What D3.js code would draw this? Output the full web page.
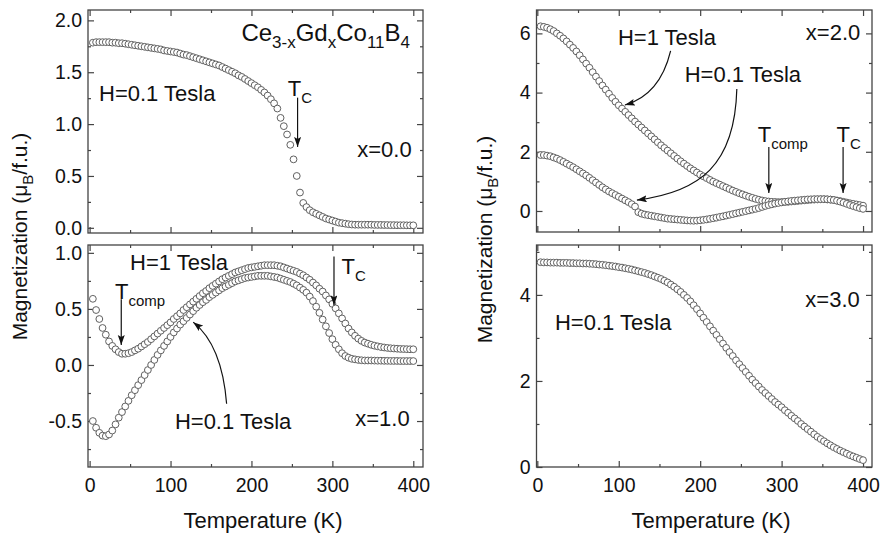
<!DOCTYPE html>
<html>
<head>
<meta charset="utf-8">
<style>
body { margin: 0; background: #fff; }
text { font-family: "Liberation Sans", Arial, Helvetica, sans-serif; fill: #111; }
</style>
</head>
<body>
<svg width="882" height="534" id="chart"></svg>
<script src="https://cdnjs.cloudflare.com/ajax/libs/d3/7.8.5/d3.min.js"></script>
<script>
// temperature grid (K), shared by every curve
var temps = [
  4,8,12,16,20,24,28,32,36,40,
  44,48,52,56,60,64,68,72,76,80,
  84,88,92,96,100,104,108,112,116,120,
  124,128,132,136,140,144,148,152,156,160,
  164,168,172,176,180,184,188,192,196,200,
  204,208,212,216,220,224,228,232,236,240,
  244,248,252,256,260,264,268,272,276,280,
  284,288,292,296,300,304,308,312,316,320,
  324,328,332,336,340,344,348,352,356,360,
  364,368,372,376,380,384,388,392,396,400
];

// x = 0.0, H = 0.1 T
var m_x0_h01 = [
  1.785,1.79,1.79,1.79,1.79,1.79,1.785,1.785,1.78,1.78,
  1.775,1.77,1.765,1.76,1.755,1.75,1.745,1.74,1.735,1.73,
  1.725,1.72,1.71,1.705,1.70,1.695,1.69,1.68,1.67,1.665,
  1.655,1.645,1.635,1.625,1.615,1.605,1.595,1.585,1.575,1.565,
  1.55,1.535,1.52,1.505,1.49,1.47,1.455,1.435,1.415,1.395,
  1.375,1.355,1.33,1.305,1.275,1.24,1.20,1.15,1.06,0.98,
  0.90,0.80,0.66,0.50,0.34,0.24,0.20,0.17,0.15,0.135,
  0.12,0.105,0.09,0.08,0.07,0.06,0.05,0.045,0.04,0.035,
  0.032,0.03,0.03,0.03,0.03,0.03,0.03,0.028,0.028,0.028,
  0.027,0.027,0.026,0.026,0.025,0.025,0.025,0.024,0.024,0.024
];

// x = 1.0, H = 1 T
var m_x1_h1 = [
  0.59,0.49,0.41,0.33,0.27,0.21,0.17,0.14,0.115,0.10,
  0.10,0.105,0.115,0.13,0.145,0.165,0.185,0.205,0.23,0.255,
  0.28,0.305,0.33,0.355,0.38,0.41,0.435,0.46,0.49,0.515,
  0.54,0.565,0.59,0.615,0.64,0.66,0.685,0.705,0.725,0.745,
  0.765,0.78,0.795,0.81,0.825,0.835,0.845,0.855,0.865,0.87,
  0.875,0.88,0.885,0.89,0.89,0.89,0.89,0.885,0.88,0.87,
  0.86,0.85,0.84,0.83,0.815,0.80,0.78,0.76,0.735,0.71,
  0.68,0.655,0.62,0.585,0.545,0.505,0.46,0.415,0.37,0.325,
  0.29,0.26,0.235,0.215,0.20,0.19,0.18,0.172,0.166,0.16,
  0.156,0.152,0.149,0.147,0.145,0.143,0.142,0.141,0.14,0.14
];

// x = 1.0, H = 0.1 T
var m_x1_h01 = [
  -0.50,-0.56,-0.605,-0.63,-0.635,-0.62,-0.585,-0.53,-0.47,-0.42,
  -0.37,-0.32,-0.27,-0.225,-0.18,-0.135,-0.09,-0.045,0.0,0.045,
  0.09,0.13,0.17,0.21,0.25,0.29,0.325,0.36,0.39,0.42,
  0.45,0.48,0.51,0.535,0.56,0.58,0.605,0.625,0.645,0.665,
  0.685,0.70,0.715,0.73,0.745,0.755,0.765,0.775,0.78,0.785,
  0.79,0.795,0.795,0.795,0.795,0.79,0.785,0.78,0.77,0.76,
  0.75,0.74,0.725,0.71,0.69,0.67,0.645,0.61,0.57,0.52,
  0.465,0.405,0.345,0.285,0.23,0.18,0.14,0.105,0.08,0.065,
  0.055,0.05,0.045,0.042,0.04,0.04,0.04,0.039,0.038,0.038,
  0.037,0.037,0.036,0.036,0.036,0.035,0.035,0.035,0.035,0.035
];

// x = 2.0, H = 1 T
var m_x2_h1 = [
  6.24,6.22,6.19,6.14,6.08,6.00,5.92,5.83,5.73,5.62,
  5.51,5.39,5.26,5.12,4.98,4.84,4.69,4.54,4.39,4.24,
  4.10,3.96,3.82,3.69,3.57,3.46,3.35,3.24,3.13,3.02,
  2.92,2.82,2.72,2.62,2.52,2.42,2.32,2.22,2.13,2.04,
  1.95,1.86,1.77,1.68,1.60,1.52,1.44,1.37,1.30,1.23,
  1.17,1.11,1.05,0.99,0.94,0.89,0.84,0.79,0.74,0.69,
  0.645,0.60,0.56,0.52,0.48,0.445,0.41,0.38,0.355,0.335,
  0.32,0.31,0.305,0.30,0.30,0.305,0.31,0.32,0.33,0.34,
  0.35,0.36,0.37,0.38,0.385,0.39,0.395,0.395,0.39,0.385,
  0.37,0.355,0.335,0.31,0.285,0.26,0.24,0.22,0.20,0.18
];

// x = 2.0, H = 0.1 T
var m_x2_h01 = [
  1.89,1.89,1.87,1.85,1.81,1.77,1.72,1.66,1.60,1.54,
  1.48,1.41,1.34,1.27,1.20,1.12,1.04,0.96,0.88,0.80,
  0.73,0.66,0.60,0.54,0.48,0.42,0.36,0.30,0.23,0.15,
  -0.04,-0.09,-0.12,-0.14,-0.16,-0.18,-0.20,-0.22,-0.24,-0.26,
  -0.27,-0.28,-0.29,-0.30,-0.31,-0.32,-0.325,-0.33,-0.325,-0.315,
  -0.30,-0.285,-0.265,-0.245,-0.225,-0.20,-0.18,-0.155,-0.13,-0.105,
  -0.08,-0.055,-0.03,-0.005,0.02,0.045,0.07,0.10,0.135,0.17,
  0.20,0.225,0.25,0.27,0.29,0.31,0.325,0.34,0.35,0.36,
  0.37,0.38,0.39,0.395,0.40,0.40,0.40,0.40,0.395,0.385,
  0.37,0.345,0.315,0.28,0.24,0.20,0.165,0.13,0.095,0.07
];

// x = 3.0, H = 0.1 T
var m_x3_h01 = [
  4.76,4.755,4.755,4.75,4.75,4.75,4.745,4.745,4.745,4.74,
  4.74,4.735,4.735,4.73,4.73,4.725,4.72,4.715,4.705,4.70,
  4.69,4.68,4.67,4.66,4.645,4.635,4.62,4.605,4.59,4.57,
  4.55,4.53,4.51,4.485,4.46,4.43,4.40,4.37,4.33,4.29,
  4.24,4.19,4.13,4.07,4.00,3.93,3.85,3.76,3.67,3.57,
  3.47,3.37,3.27,3.17,3.07,2.97,2.87,2.77,2.67,2.58,
  2.48,2.39,2.30,2.21,2.12,2.03,1.95,1.87,1.79,1.72,
  1.65,1.58,1.51,1.45,1.39,1.32,1.26,1.19,1.13,1.07,
  1.00,0.94,0.88,0.82,0.76,0.70,0.65,0.60,0.55,0.505,
  0.46,0.42,0.38,0.345,0.31,0.275,0.245,0.215,0.185,0.16
];

// tick values
var tempTicks = [0, 100, 200, 300, 400];
var tempMinor = [50, 150, 250, 350];
var ticks_x0 = [0, 0.5, 1.0, 1.5, 2.0], minor_x0 = [0.25, 0.75, 1.25, 1.75];
var ticks_x1 = [-0.5, 0, 0.5, 1.0], minor_x1 = [-0.75, -0.25, 0.25, 0.75];
var ticks_x2 = [0, 2, 4, 6], minor_x2 = [1, 3, 5];
var ticks_x3 = [0, 2, 4], minor_x3 = [1, 3, 5];

var fmt1 = function(d) { return d.toFixed(1); };
var fmt0 = function(d) { return d.toFixed(0); };

var panels = [
  { x0: 88, x1: 423, y0: 10, y1: 233, xDomain: [-2, 412], yDomain: [-0.05, 2.1],
    yMajor: ticks_x0, yMinor: minor_x0, fmt: fmt1, xLabels: false,
    series: [m_x0_h01],
    texts: [
      { t: 396, m: 1.80, anchor: "end", size: 24, parts: ["Ce", {sub: "3-x"}, "Gd", {sub: "x"}, "Co", {sub: "11"}, "B", {sub: "4"}] },
      { t: 11.6, m: 1.22, parts: ["H=0.1 Tesla"] },
      { t: 245, m: 1.267, parts: ["T", {sub: "C"}] },
      { t: 398, m: 0.687, anchor: "end", parts: ["x=0.0"] }
    ],
    arrows: [ { pts: [[257, 1.255], [257, 0.78]] } ] },
  { x0: 88, x1: 423, y0: 245, y1: 467, xDomain: [-2, 412], yDomain: [-0.91, 1.07],
    yMajor: ticks_x1, yMinor: minor_x1, fmt: fmt1, xLabels: true,
    series: [m_x1_h1, m_x1_h01],
    texts: [
      { t: 50, m: 0.85, parts: ["H=1 Tesla"] },
      { t: 31.4, m: 0.592, parts: ["T", {sub: "comp"}] },
      { t: 311.2, m: 0.814, parts: ["T", {sub: "C"}] },
      { t: 105.4, m: -0.571, parts: ["H=0.1 Tesla"] },
      { t: 395.5, m: -0.548, anchor: "end", parts: ["x=1.0"] }
    ],
    arrows: [
      { pts: [[39.1, 0.586], [39.1, 0.178]] },
      { pts: [[302, 0.968], [302, 0.533]] },
      { pts: [[169.3, -0.346], [163.5, 0.178], [128, 0.382]] }
    ] },
  { x0: 536.5, x1: 872, y0: 10, y1: 232, xDomain: [-1, 411], yDomain: [-0.71, 6.79],
    yMajor: ticks_x2, yMinor: minor_x2, fmt: fmt0, xLabels: false,
    series: [m_x2_h1, m_x2_h01],
    texts: [
      { t: 99, m: 5.61, parts: ["H=1 Tesla"] },
      { t: 181, m: 4.37, parts: ["H=0.1 Tesla"] },
      { t: 396.6, m: 5.78, anchor: "end", parts: ["x=2.0"] },
      { t: 270.8, m: 2.34, parts: ["T", {sub: "comp"}] },
      { t: 367.4, m: 2.34, parts: ["T", {sub: "C"}] }
    ],
    arrows: [
      { pts: [[284.3, 2.16], [284.3, 0.61]] },
      { pts: [[375.5, 2.16], [375.5, 0.61]] },
      { pts: [[163.7, 5.41], [150.6, 3.92], [107.6, 3.58]] },
      { pts: [[245, 4.12], [242.6, 1.55], [199.6, 0.64], [122.3, 0.37]] }
    ] },
  { x0: 536.5, x1: 872, y0: 245, y1: 467, xDomain: [-1, 411], yDomain: [0, 5.16],
    yMajor: ticks_x3, yMinor: minor_x3, fmt: fmt0, xLabels: true,
    series: [m_x3_h01],
    texts: [
      { t: 396, m: 3.72, anchor: "end", parts: ["x=3.0"] },
      { t: 21.7, m: 3.18, parts: ["H=0.1 Tesla"] }
    ],
    arrows: [] }
];

var svg = d3.select("#chart");
svg.append("rect").attr("width", 882).attr("height", 534).attr("fill", "#fff");

svg.append("defs").append("marker")
  .attr("id", "arrow")
  .attr("markerUnits", "userSpaceOnUse")
  .attr("markerWidth", 12).attr("markerHeight", 8)
  .attr("refX", 10).attr("refY", 3.5)
  .attr("orient", "auto")
  .append("path")
  .attr("d", "M0,0 L10,3.5 L0,7 L2,3.5 z")
  .attr("fill", "#111");

// text with optional subscripts
function addText(g, x, y, parts, size, anchor) {
  var t = g.append("text")
    .attr("x", x).attr("y", y)
    .attr("text-anchor", anchor || "start")
    .style("font-size", size + "px");
  var shift = 0;
  parts.forEach(function(p) {
    var span = t.append("tspan");
    if (typeof p === "string") {
      span.text(p).attr("dy", -shift);
      shift = 0;
    } else {
      var s = Math.round(size * 0.3);
      span.text(p.sub).attr("dy", s - shift).style("font-size", Math.round(size * 0.7) + "px");
      shift = s;
    }
  });
  return t;
}

panels.forEach(function(p) {
  var x = d3.scaleLinear().domain(p.xDomain).range([p.x0, p.x1]);
  var y = d3.scaleLinear().domain(p.yDomain).range([p.y1, p.y0]);
  var g = svg.append("g");

  // ticks, all pointing inward
  function axis(gen, scale, vals, size, fmt, tx, ty) {
    var a = g.append("g")
      .attr("transform", "translate(" + tx + "," + ty + ")")
      .call(gen(scale).tickValues(vals).tickSize(-size).tickPadding(fmt ? (gen === d3.axisBottom ? 11 : 6) : 0)
        .tickFormat(fmt || ""));
    a.select(".domain").remove();
    a.selectAll("line").attr("stroke", "#444").attr("stroke-width", 1.2);
    a.selectAll("text").style("font-size", "19.5px").attr("fill", "#111")
      .style("font-family", "'Liberation Sans', Arial, sans-serif");
    return a;
  }
  axis(d3.axisBottom, x, tempTicks, 6, p.xLabels ? fmt0 : null, 0, p.y1);
  axis(d3.axisBottom, x, tempMinor, 3, null, 0, p.y1);
  axis(d3.axisTop, x, tempTicks, 6, null, 0, p.y0);
  axis(d3.axisTop, x, tempMinor, 3, null, 0, p.y0);
  axis(d3.axisLeft, y, p.yMajor, 6, p.fmt, p.x0, 0);
  axis(d3.axisLeft, y, p.yMinor, 3, null, p.x0, 0);
  axis(d3.axisRight, y, p.yMajor, 6, null, p.x1, 0);
  axis(d3.axisRight, y, p.yMinor, 3, null, p.x1, 0);

  // frame
  g.append("rect")
    .attr("x", p.x0).attr("y", p.y0)
    .attr("width", p.x1 - p.x0).attr("height", p.y1 - p.y0)
    .attr("fill", "none").attr("stroke", "#444").attr("stroke-width", 1.3);

  // data
  p.series.forEach(function(vals) {
    g.append("g").selectAll("circle")
      .data(vals)
      .enter().append("circle")
      .attr("cx", function(d, i) { return x(temps[i]); })
      .attr("cy", function(d) { return y(d); })
      .attr("r", 3.4)
      .attr("fill", "#fff")
      .attr("stroke", "#606060")
      .attr("stroke-width", 1);
  });

  // annotations
  p.texts.forEach(function(d) {
    addText(g, x(d.t), y(d.m), d.parts, d.size || 22, d.anchor);
  });
  p.arrows.forEach(function(d) {
    var pts = d.pts.map(function(q) { return [x(q[0]), y(q[1])]; });
    var path = "M" + pts[0].join(",");
    if (pts.length === 2) path += " L" + pts[1].join(",");
    else if (pts.length === 3) path += " Q" + pts[1].join(",") + " " + pts[2].join(",");
    else path += " C" + pts[1].join(",") + " " + pts[2].join(",") + " " + pts[3].join(",");
    g.append("path")
      .attr("d", path)
      .attr("fill", "none")
      .attr("stroke", "#111")
      .attr("stroke-width", 1.2)
      .attr("marker-end", "url(#arrow)");
  });
});

// axis titles
var yTitle = ["Magnetization (\u03bc", {sub: "B"}, "/f.u.)"];
addText(svg.append("g").attr("transform", "translate(27,236.5) rotate(-90)"), 0, 0, yTitle, 21, "middle");
addText(svg.append("g").attr("transform", "translate(491.5,239.5) rotate(-90)"), 0, 0, yTitle, 21, "middle");
addText(svg, 263, 527.7, ["Temperature (K)"], 22, "middle");
addText(svg, 711, 527.7, ["Temperature (K)"], 22, "middle");
</script>
</body>
</html>
